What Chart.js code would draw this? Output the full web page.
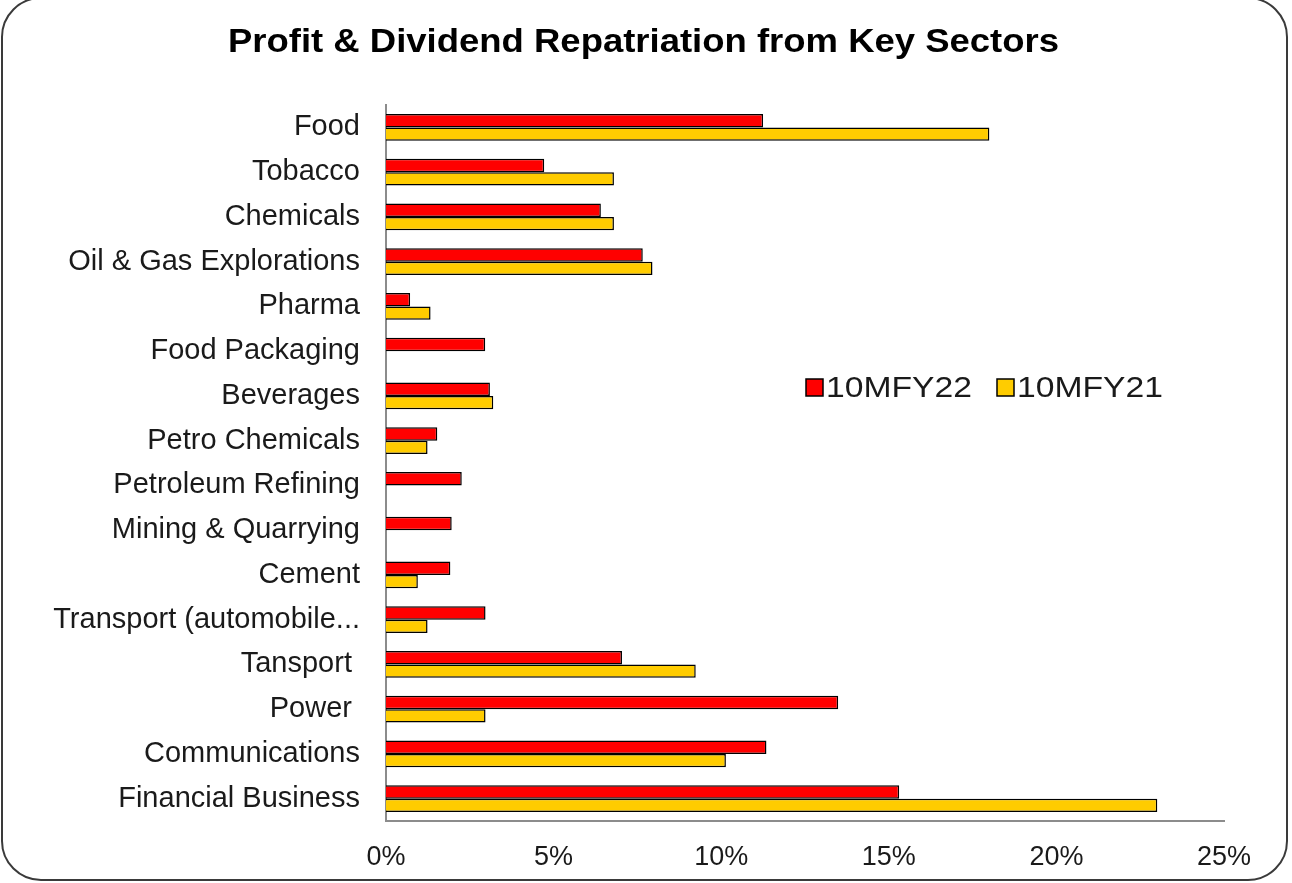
<!DOCTYPE html>
<html>
<head>
<meta charset="utf-8">
<script src="https://cdn.jsdelivr.net/npm/chart.js@4.4.1/dist/chart.umd.min.js"></script>
<style>
  html, body { margin: 0; padding: 0; background: #fff; }
  body { width: 1292px; height: 883px; overflow: hidden; position: relative; }
  .frame {
    position: absolute; left: 1px; top: -3px; width: 1287px; height: 884px;
    border: 2px solid #3a3a3a; border-radius: 40px; box-sizing: border-box;
  }
  #wrap { position: absolute; left: 0; top: 0; width: 1292px; height: 883px; }
</style>
</head>
<body>
<div class="frame"></div>
<div id="wrap"><canvas id="chart" width="1292" height="883"></canvas></div>
<script>
// sectors, top to bottom
const sectors = [
  'Food', 'Tobacco', 'Chemicals', 'Oil & Gas Explorations', 'Pharma',
  'Food Packaging', 'Beverages', 'Petro Chemicals', 'Petroleum Refining',
  'Mining & Quarrying', 'Cement', 'Transport (automobile...', 'Tansport ',
  'Power ', 'Communications', 'Financial Business'
];
// share of total repatriation, %
const fy22 = [11.25, 4.72, 6.41, 7.66, 0.72, 2.96, 3.10, 1.53, 2.26, 1.96, 1.92, 2.97, 7.04, 13.49, 11.35, 15.31];
const fy21 = [18.0, 6.80, 6.80, 7.95, 1.33, 0, 3.20, 1.24, 0, 0, 0.95, 1.24, 9.24, 2.97, 10.14, 23.01];
const xTicks = [0, 5, 10, 15, 20, 25];
const title = 'Profit & Dividend Repatriation from Key Sectors';

const FONT = '"Liberation Sans", Arial, sans-serif';

// text squeezed/stretched horizontally to a target width (the original is a bit wide)
function wideText(ctx, txt, x, y, width) {
  const w = ctx.measureText(txt).width;
  const sx = width / w;
  ctx.save();
  ctx.translate(x, y);
  ctx.scale(sx, 1);
  ctx.fillText(txt, 0, 0);
  ctx.restore();
  return width;
}

// title + legend drawn by hand to sit where the original puts them
const decor = {
  id: 'decor',
  afterDraw(chart) {
    const ctx = chart.ctx;
    ctx.save();
    ctx.fillStyle = '#000';
    ctx.font = 'bold 33px ' + FONT;
    ctx.textAlign = 'left';
    ctx.textBaseline = 'alphabetic';
    wideText(ctx, title, 228, 52, 831);

    // legend
    ctx.font = '30px ' + FONT;
    let x = 806;
    const base = 397;
    chart.data.datasets.forEach(ds => {
      ctx.fillStyle = ds.backgroundColor;
      ctx.fillRect(x, base - 18, 17, 17);
      ctx.strokeStyle = '#000';
      ctx.lineWidth = 1.5;
      ctx.strokeRect(x, base - 18, 17, 17);
      ctx.fillStyle = '#1a1a1a';
      const w = wideText(ctx, ds.label, x + 20, base, 146);
      x += 20 + w + 25;
    });
    ctx.restore();
  }
};

new Chart(document.getElementById('chart'), {
  type: 'bar',
  data: {
    labels: sectors,
    datasets: [
      {
        label: '10MFY22',
        data: fy22,
        backgroundColor: '#FF0000',
        borderColor: '#000',
        borderWidth: 1.5,
        barPercentage: 1.0,
        categoryPercentage: 0.6
      },
      {
        label: '10MFY21',
        data: fy21,
        backgroundColor: '#FFCC00',
        borderColor: '#000',
        borderWidth: 1.5,
        barPercentage: 1.0,
        categoryPercentage: 0.6
      }
    ]
  },
  options: {
    indexAxis: 'y',
    responsive: false,
    animation: false,
    layout: { padding: { top: 105, right: 68, bottom: 0, left: 0 } },
    scales: {
      x: {
        min: 0,
        max: 25,
        afterBuildTicks: s => { s.ticks = xTicks.map(v => ({ value: v })); },
        afterFit: s => { s.height = 62; },
        grid: { display: false, drawTicks: false },
        border: { display: true, color: '#8c8c8c', width: 2 },
        ticks: {
          callback: v => v + '%',
          color: '#1a1a1a',
          padding: 20,
          maxRotation: 0,
          font: { family: FONT, size: 27 }
        }
      },
      y: {
        afterFit: s => { s.width = 386; },
        grid: { display: false, drawTicks: false },
        border: { display: true, color: '#8c8c8c', width: 2 },
        ticks: {
          color: '#1a1a1a',
          padding: 26,
          autoSkip: false,
          font: { family: FONT, size: 29 }
        }
      }
    },
    plugins: {
      legend: { display: false },
      title: { display: false },
      tooltip: { enabled: false }
    }
  },
  plugins: [decor]
});
</script>
</body>
</html>
